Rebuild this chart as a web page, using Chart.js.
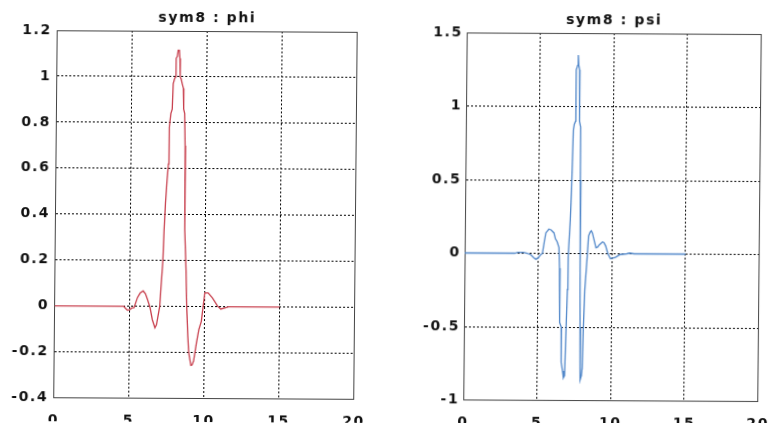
<!DOCTYPE html>
<html>
<head>
<meta charset="utf-8">
<title>sym8 phi / psi</title>
<script src="https://cdn.jsdelivr.net/npm/chart.js@4.4.0/dist/chart.umd.min.js"></script>
<style>
  html, body { margin: 0; padding: 0; background: #fff; overflow: hidden; }
  /* the scan is slightly skewed, so the whole page is too */
  #page { position: relative; width: 771px; height: 423px;
          transform-origin: 385.5px 211.5px;
          transform: matrix(1, 0.0053, -0.0095, 1, 0, 0); }
  .box { position: absolute; top: 0; height: 423px; }
  #left { left: 0; width: 385px; }
  #right { left: 385px; width: 400px; }
</style>
</head>
<body>
<div id="page">
  <div class="box" id="left"><canvas id="phi"></canvas></div>
  <div class="box" id="right"><canvas id="psi"></canvas></div>
</div>
<script>
const xTicks = [0, 5, 10, 15, 20];
const phiTicks = [-0.4, -0.2, 0, 0.2, 0.4, 0.6, 0.8, 1, 1.2];
const psiTicks = [-1, -0.5, 0, 0.5, 1, 1.5];

// scaling function
const phiX = [0, 4.6, 4.75, 4.86, 5.0, 5.15, 5.3, 5.52, 5.7, 5.9, 6.05, 6.19, 6.37, 6.52, 6.7, 6.8, 6.9, 7.01,
  7.08, 7.19, 7.25, 7.33, 7.42, 7.5, 7.52, 7.55, 7.63, 7.72, 7.77, 7.85, 7.92, 7.95, 8.03, 8.08, 8.16, 8.2,
  8.23, 8.3, 8.37, 8.45, 8.48, 8.55, 8.6, 8.63, 8.74, 8.81, 8.9, 8.97, 9.12, 9.2, 9.3, 9.48, 9.63, 9.79,
  9.92, 10.01, 10.23, 10.52, 10.86, 11.08, 11.4, 11.6, 15];
const phiY = [0, 0, -0.01, -0.017, -0.015, -0.008, -0.006, 0.038, 0.058, 0.067, 0.055, 0.03, -0.006, -0.057, -0.093, -0.08, -0.042, 0,
  0.08, 0.197, 0.33, 0.45, 0.55, 0.62, 0.7, 0.78, 0.84, 0.86, 0.97, 0.99, 1.0, 1.08, 1.09, 1.115, 1.115, 1.08,
  1.0, 0.99, 0.97, 0.95, 0.86, 0.84, 0.7, 0.335, 0.16, 0, -0.129, -0.2, -0.256, -0.254, -0.237, -0.158, -0.1, -0.064,
  0.009, 0.06, 0.06, 0.038, 0.003, -0.01, -0.004, 0, 0];

// wavelet function
const psiX = [0, 3.4, 3.6, 4.0, 4.25, 4.5, 4.7, 4.84, 5.0, 5.15, 5.28, 5.4, 5.5, 5.7, 5.85, 6.05, 6.15, 6.27, 6.4,
  6.45, 6.49, 6.6, 6.62, 6.72, 6.78, 6.86, 6.93, 7.0, 7.03, 7.15, 7.22, 7.3, 7.36, 7.44, 7.46, 7.55, 7.59, 7.63,
  7.69, 7.71, 7.79, 7.81, 7.83, 7.86, 7.88, 7.9, 7.93, 8.0, 8.05, 8.1, 8.18, 8.32, 8.4, 8.5, 8.58, 8.66, 8.76,
  8.91, 9.02, 9.13, 9.35, 9.45, 9.57, 9.72, 9.9, 10.05, 10.23, 10.56, 11.0, 11.2, 11.5, 15];
const psiY = [0, 0, 0.006, 0.006, 0, -0.01, -0.03, -0.04, -0.03, -0.01, 0, 0.08, 0.14, 0.165, 0.16, 0.14, 0.1, 0.08, 0.04,
  -0.1, -0.47, -0.5, -0.74, -0.8, -0.846, -0.83, -0.52, -0.245, -0.02, 0.23, 0.45, 0.84, 0.88, 0.9, 1.25, 1.28, 1.35, 1.28,
  1.25, 0.9, 0.86, 0.5, 0.2, -0.1, -0.5, -0.78, -0.86, -0.83, -0.78, -0.52, -0.245, -0.02, 0.12, 0.145, 0.155, 0.14, 0.1,
  0.04, 0.045, 0.06, 0.08, 0.075, 0.052, 0, -0.034, -0.03, -0.025, -0.005, 0, 0.005, 0, 0];

Chart.defaults.font.family = "'DejaVu Sans', sans-serif";
Chart.defaults.color = '#111';

// the scanned lettering is wide, so spread it a little
const spacing = {
  id: 'spacing',
  beforeUpdate(chart) { chart.ctx.letterSpacing = '1.6px'; },
  beforeDraw(chart) { chart.ctx.letterSpacing = '1.6px'; }
};

function fixTicks(list) {
  return scale => { scale.ticks = list.map(v => ({ value: v })); };
}

function makePlot(id, title, xs, ys, yTicks, color, yWidth, padRight, labelPad) {
  const points = xs.map((x, i) => ({ x: x, y: ys[i] }));
  const gridline = { color: '#000', lineWidth: 1, drawTicks: false };
  const frame = { color: '#444', width: 1, dash: [2, 2] };
  const tickFont = { size: 14, weight: 'bold' };

  return new Chart(document.getElementById(id), {
    type: 'line',
    data: {
      datasets: [{
        data: points,
        borderColor: color,
        borderWidth: 1.3,
        pointRadius: 0,
        tension: 0,
        fill: false
      }]
    },
    options: {
      animation: false,
      responsive: true,
      maintainAspectRatio: false,
      layout: { padding: { left: 0, right: padRight, top: 0, bottom: 0 } },
      plugins: {
        legend: { display: false },
        tooltip: { enabled: false },
        title: {
          display: true,
          text: title,
          fullSize: false,
          color: '#111',
          font: { size: 14, weight: 'bold' },
          padding: { top: 10.5, bottom: 4.7 }
        }
      },
      scales: {
        x: {
          type: 'linear', min: 0, max: 20,
          afterBuildTicks: fixTicks(xTicks),
          afterFit: s => { s.height = 23.5; },
          grid: gridline,
          border: frame,
          ticks: { padding: 14, font: tickFont, color: '#111', callback: v => String(v) }
        },
        y: {
          type: 'linear', min: yTicks[0], max: yTicks[yTicks.length - 1],
          afterBuildTicks: fixTicks(yTicks),
          afterFit: s => { s.width = yWidth; },
          grid: gridline,
          border: frame,
          ticks: { padding: labelPad, font: tickFont, color: '#111', callback: v => String(v) }
        },
        xTop: {
          type: 'linear', position: 'top', min: 0, max: 20,
          grid: { display: false },
          ticks: { display: false },
          border: { color: '#444', width: 1 },
          afterFit: s => { s.height = 0; }
        },
        yRight: {
          type: 'linear', position: 'right', min: yTicks[0], max: yTicks[yTicks.length - 1],
          grid: { display: false },
          ticks: { display: false },
          border: { color: '#444', width: 1 },
          afterFit: s => { s.width = 0; }
        }
      }
    },
    plugins: [spacing]
  });
}

makePlot('phi', 'sym8 : phi', phiX, phiY, phiTicks, '#c8404e', 55.5, 29.5, 5.5);
makePlot('psi', 'sym8 : psi', psiX, psiY, psiTicks, '#4f86c9', 80, 17, 4);
</script>
</body>
</html>
